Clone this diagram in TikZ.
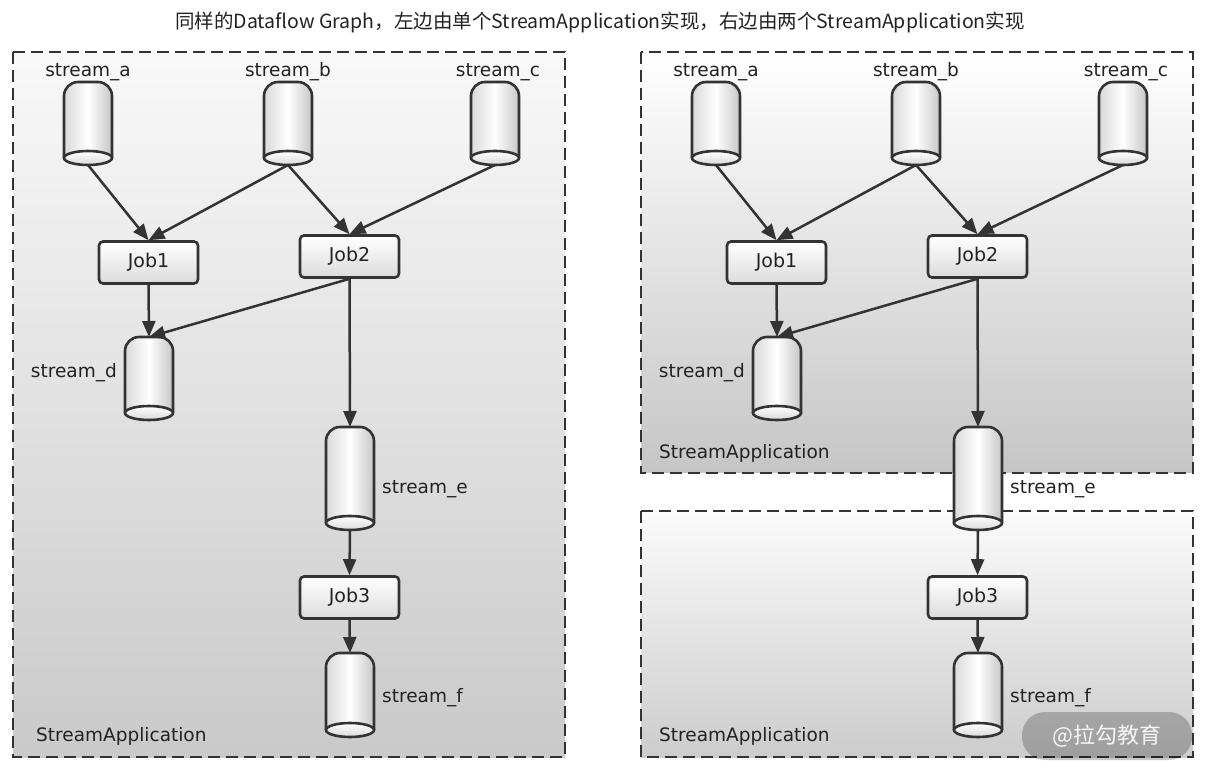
\documentclass[tikz,border=0pt]{standalone}
\usepackage{fontspec}
\setmainfont{DejaVu Sans}
\newfontfamily\cjk{Noto Sans CJK SC}
\usetikzlibrary{arrows.meta,calc}
\definecolor{linec}{HTML}{333333}
\definecolor{txtc}{HTML}{222222}
\tikzset{
  appbox/.style={draw=linec, line width=2.8pt, dash pattern=on 12pt off 6pt},
  cylbox/.style={inner sep=0pt, outer sep=0pt, minimum width=48pt},
  jobbox/.style={draw=linec, line width=2.6pt, rounded corners=4pt, top color=white, bottom color=gray!28,
    minimum width=99pt, minimum height=42pt, font=\fontsize{19}{22}\selectfont, text=txtc},
  lbl/.style={font=\fontsize{18.5}{22}\selectfont, text=txtc, inner sep=0pt},
  flow/.style={draw=linec, line width=2.5pt, -{Triangle[length=16pt,width=13pt]}},
  cylshade/.style={left color=gray!30, right color=gray!45, middle color=white},
  cylline/.style={draw=linec, line width=2.6pt},
}
\newcommand\cyl[4]{%
  \node[cylbox, minimum height={#4-#3}] (#1) at (#2,{(#3+#4)/2}) {};
  \shade[cylshade] ([yshift=7pt]#1.south west) [rounded corners=14pt] -- (#1.north west) -- (#1.north east) [sharp corners] -- ([yshift=7pt]#1.south east) -- cycle;
  \draw[cylline, rounded corners=14pt] ([yshift=7pt]#1.south west) -- (#1.north west) -- (#1.north east) -- ([yshift=7pt]#1.south east);
  \draw[cylline, top color=white, bottom color=gray!30] ([yshift=7pt]#1.south) ellipse [x radius=24pt, y radius=7pt];
}
\newcommand\dfgraph[1]{%
  \node[lbl] (#1la) at (88,72) {stream\_a};
  \node[lbl] (#1lb) at (288,72) {stream\_b};
  \node[lbl] (#1lc) at (498,72) {stream\_c};
  \cyl{#1a}{88}{82}{165}
  \cyl{#1b}{288}{82}{165}
  \cyl{#1c}{495}{82}{165}
  \node[jobbox] (#1j1) at (148.5,262.5) {Job1};
  \node[jobbox] (#1j2) at (349.5,256.5) {Job2};
  \cyl{#1d}{149}{337}{420}
  \node[lbl, anchor=east] (#1ld) at (117,373) {stream\_d};
  \cyl{#1e}{350}{427}{530}
  \node[lbl, anchor=west] (#1le) at (382,489) {stream\_e};
  \node[jobbox] (#1j3) at (349.5,597.5) {Job3};
  \cyl{#1f}{350}{653}{737}
  \node[lbl, anchor=west] (#1lf) at (382,698) {stream\_f};
  \draw[flow] (#1a.south) -- (#1j1.north);
  \draw[flow] (#1b.south) -- (#1j1.north);
  \draw[flow] (#1b.south) -- (#1j2.north);
  \draw[flow] (#1c.south) -- (#1j2.north);
  \draw[flow] (#1j1.south) -- (#1d.north);
  \draw[flow] (#1j2.south) -- (#1d.north);
  \draw[flow] (#1j2.south) -- (#1e.north);
  \draw[flow] (#1e.south) -- (#1j3.north);
  \draw[flow] (#1j3.south) -- (#1f.north);
}
\begin{document}
\begin{tikzpicture}[x=1pt,y=-1pt]
  \fill[white] (0,0) rectangle (1208,775);
  \useasboundingbox (0,0) rectangle (1208,775);
  \node[font=\cjk\fontsize{19.5}{22}\selectfont, text=txtc] (title) at (600,22)
    {同样的Dataflow Graph，左边由单个StreamApplication实现，右边由两个StreamApplication实现};
  % left application
  \draw[appbox, top color=gray!5, bottom color=gray!42] (13,52) rectangle (565,757);
  \node[lbl, anchor=west] (appL) at (36,736) {StreamApplication};
  % right applications
  \draw[appbox, top color=white, bottom color=gray!45] (641,52) rectangle (1193,473);
  \draw[appbox, top color=gray!3, bottom color=gray!40] (641,511) rectangle (1193,757);
  \node[lbl, anchor=west] (appR1) at (659,453) {StreamApplication};
  \node[lbl, anchor=west] (appR2) at (659,736) {StreamApplication};
  \dfgraph{L}
  \begin{scope}[xshift=628pt]
    \dfgraph{R}
  \end{scope}
  \node[fill=black, fill opacity=0.22, rounded corners=23pt, minimum width=170pt, minimum height=48pt,
    text=white, text opacity=0.9, font=\cjk\fontsize{22}{26}\selectfont] (wm) at (1107,736) {@拉勾教育};
\end{tikzpicture}
\end{document}
